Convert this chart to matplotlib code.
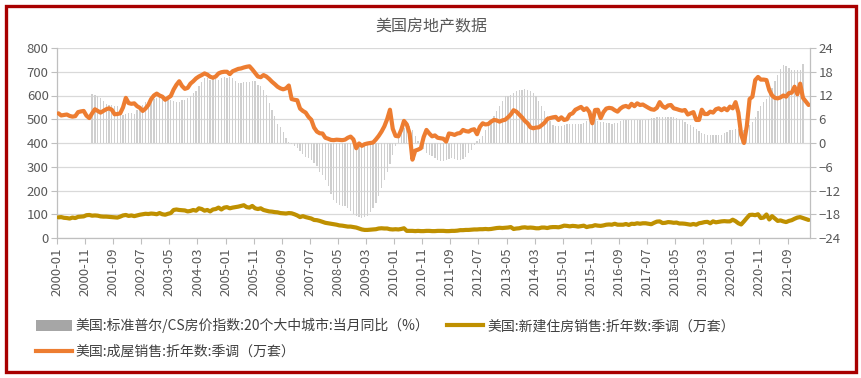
import matplotlib
matplotlib.use("Agg")
import matplotlib.pyplot as plt
from matplotlib.patches import Patch, Rectangle
from matplotlib.lines import Line2D
import numpy as np

plt.rcParams['font.family'] = ['Noto Sans CJK SC', 'DejaVu Sans']

# ---------------- data ----------------
start_year, start_month = 2000, 1
n_months = 268  # 2000-01 .. 2022-04

# 美国:成屋销售:折年数:季调（万套）, 2000-01 .. 2022-04
existing_sales = [
    525, 516, 518, 520, 514, 511, 513, 530, 533, 535, 515, 505,   # 2000
    525, 542, 535, 528, 535, 542, 546, 540, 521, 522, 525, 550,   # 2001
    590, 568, 565, 567, 555, 548, 535, 545, 560, 585, 600, 608,   # 2002
    600, 595, 582, 590, 598, 625, 645, 660, 640, 628, 632, 650,   # 2003
    660, 672, 680, 686, 693, 688, 679, 675, 680, 693, 698, 700,   # 2004
    700, 690, 702, 707, 712, 714, 718, 721, 723, 710, 695, 680,   # 2005
    677, 686, 680, 670, 658, 648, 637, 630, 626, 630, 642, 585,   # 2006
    582, 580, 545, 535, 528, 510, 498, 465, 448, 441, 440, 422,   # 2007
    418, 413, 412, 414, 413, 412, 414, 422, 427, 415, 378, 398,   # 2008
    388, 395, 398, 400, 402, 415, 430, 448, 470, 500, 540, 460,   # 2009
    430, 428, 455, 493, 478, 440, 330, 368, 372, 378, 425, 455,   # 2010
    440, 428, 432, 422, 420, 418, 406, 440, 438, 434, 440, 442,   # 2011
    455, 450, 448, 455, 458, 437, 468, 483, 478, 480, 490, 497,   # 2012
    495, 490, 495, 498, 508, 520, 538, 532, 520, 508, 493, 483,   # 2013
    466, 462, 465, 466, 475, 485, 501, 505, 508, 510, 497, 508,   # 2014
    497, 500, 520, 525, 540, 546, 552, 539, 546, 530, 483, 539,   # 2015
    540, 505, 530, 545, 548, 546, 538, 532, 545, 553, 556, 550,   # 2016
    565, 555, 567, 560, 562, 555, 548, 542, 540, 548, 572, 555,   # 2017
    548, 558, 560, 546, 543, 539, 536, 539, 520, 525, 530, 497,   # 2018
    497, 540, 522, 522, 532, 528, 542, 546, 538, 546, 538, 553,   # 2019
    546, 572, 528, 435, 400, 470, 585, 595, 665, 678, 667, 667,   # 2020
    665, 623, 600, 590, 588, 592, 600, 595, 610, 612, 637, 605,   # 2021
    650, 590, 575, 560,                                           # 2022
]

# 美国:新建住房销售:折年数:季调（万套）, 2000-01 .. 2022-04
new_sales = [
    87, 88, 85, 84, 82, 86, 84, 89, 90, 91, 96, 97,        # 2000
    94, 95, 94, 91, 90, 90, 89, 88, 87, 86, 90, 95,        # 2001
    97, 93, 95, 92, 95, 98, 100, 102, 101, 103, 102, 100,  # 2002
    105, 100, 98, 102, 105, 118, 120, 118, 117, 116, 112, 114,  # 2003
    118, 115, 125, 122, 115, 118, 112, 120, 122, 128, 120, 128,  # 2004
    130, 125, 128, 130, 132, 135, 138, 130, 128, 135, 125, 122,  # 2005
    125, 118, 115, 112, 111, 109, 108, 105, 104, 103, 105, 104,  # 2006
    100, 95, 88, 92, 88, 85, 82, 76, 75, 72, 68, 64,       # 2007
    62, 60, 58, 56, 53, 52, 50, 48, 48, 46, 44, 40,        # 2008
    36, 34, 34, 35, 36, 37, 40, 41, 40, 40, 37, 36,        # 2009
    37, 36, 38, 41, 30, 30, 30, 29, 30, 29, 29, 30,        # 2010
    30, 29, 29, 30, 30, 30, 29, 29, 30, 30, 31, 33,        # 2011
    33, 34, 34, 35, 36, 36, 37, 37, 38, 37, 38, 40,        # 2012
    42, 43, 42, 43, 44, 46, 38, 40, 41, 44, 45, 43,        # 2013
    44, 43, 41, 41, 44, 44, 42, 45, 46, 46, 45, 48,        # 2014
    52, 51, 49, 51, 50, 48, 50, 52, 46, 49, 50, 54,        # 2015
    52, 51, 53, 56, 57, 56, 60, 56, 56, 56, 59, 55,        # 2016
    60, 59, 62, 60, 62, 62, 60, 58, 64, 69, 70, 63,        # 2017
    64, 67, 66, 64, 65, 61, 61, 60, 58, 56, 59, 56,        # 2018
    62, 64, 67, 68, 62, 70, 66, 68, 70, 71, 70, 70,        # 2019
    77, 71, 62, 57, 70, 84, 97, 98, 96, 100, 84, 86,       # 2020
    99, 78, 92, 82, 72, 74, 70, 67, 72, 75, 81, 86,        # 2021
    88, 84, 80, 76,                                        # 2022
]

# 美国:标准普尔/CS房价指数:20个大中城市:当月同比（%）, 2001-01 .. 2022-02
cs_start = 12  # index of 2001-01
cs_yoy = [
    12.4, 12.2, 12.0, 11.4, 10.5, 9.9, 9.7, 9.7, 9.4, 9.3, 8.0, 7.2,         # 2001
    7.4, 7.7, 7.5, 7.4, 8.4, 9.3, 9.7, 10.3, 10.5, 10.9, 11.1, 11.4,        # 2002
    11.6, 11.1, 10.9, 10.8, 10.8, 10.5, 10.4, 10.3, 10.8, 10.9, 11.4, 11.8, # 2003
    12.6, 13.1, 14.3, 15.3, 16.4, 16.4, 16.0, 16.2, 16.2, 16.0, 16.3, 16.6, # 2004
    16.3, 16.6, 16.4, 15.6, 15.2, 15.2, 15.3, 15.4, 15.5, 15.6, 15.6, 14.7, # 2005
    14.5, 13.5, 12.2, 10.1, 8.4, 6.9, 4.9, 4.0, 2.7, 1.2, 0.2, -0.3,        # 2006
    -0.8, -1.3, -2.1, -2.9, -3.5, -3.8, -4.4, -5.1, -5.9, -7.2, -8.2, -9.3, # 2007
    -10.9, -12.8, -14.3, -15.2, -15.6, -15.8, -16.0, -16.4, -17.3, -17.9, -18.4, -18.7,  # 2008
    -18.9, -18.7, -18.4, -17.5, -16.4, -15.2, -13.5, -11.4, -9.3, -7.2, -5.2, -3.0,      # 2009
    -0.8, 1.3, 2.9, 3.8, 4.6, 4.2, 3.4, 1.7, 0.6, -0.8, -1.6, -2.5,        # 2010
    -3.1, -3.4, -3.8, -4.2, -4.6, -4.6, -4.2, -4.0, -3.8, -4.0, -4.3, -4.2, # 2011
    -4.0, -3.5, -2.5, -1.7, -0.5, 0.4, 1.0, 1.7, 3.4, 4.6, 5.5, 6.7,       # 2012
    8.0, 9.3, 10.5, 11.8, 11.8, 12.2, 12.6, 13.1, 13.3, 13.5, 13.6, 13.5,  # 2013
    13.1, 12.6, 11.8, 10.5, 9.3, 8.0, 6.7, 5.5, 4.6, 4.4, 4.2, 4.4,        # 2014
    4.6, 4.9, 4.9, 4.9, 4.9, 4.9, 4.9, 5.1, 5.5, 5.9, 5.9, 5.7,            # 2015
    5.5, 5.2, 5.2, 5.1, 5.1, 4.9, 5.1, 5.1, 5.5, 5.7, 5.7, 5.7,            # 2016
    5.7, 5.8, 5.9, 5.9, 5.8, 5.9, 6.1, 6.3, 6.3, 6.5, 6.6, 6.6,            # 2017
    6.5, 6.6, 6.6, 6.6, 6.3, 6.1, 5.7, 5.3, 4.8, 4.6, 4.0, 3.6,            # 2018
    3.0, 2.5, 2.3, 2.1, 1.9, 1.9, 1.9, 2.0, 2.1, 2.5, 2.9, 3.2,            # 2019
    3.2, 3.5, 3.5, 3.5, 3.2, 3.6, 4.5, 5.2, 6.6, 8.0, 9.3, 10.3,           # 2020
    11.1, 12.6, 13.9, 15.6, 17.3, 18.6, 19.8, 19.4, 18.9, 18.5, 18.4, 18.4, # 2021
    18.5, 20.0,                                                           # 2022
]

tick_step = 10
labels_all = [f"{start_year + (start_month - 1 + i) // 12}-{(start_month - 1 + i) % 12 + 1:02d}"
              for i in range(n_months)]

name_cs = "美国:标准普尔/CS房价指数:20个大中城市:当月同比（%）"
name_new = "美国:新建住房销售:折年数:季调（万套）"
name_exist = "美国:成屋销售:折年数:季调（万套）"

# ---------------- figure ----------------
W, H = 862, 378
fig = plt.figure(figsize=(W / 100, H / 100), dpi=100)
fig.patch.set_facecolor('white')
fig.subplots_adjust(left=57 / W, right=810 / W, top=1 - 48 / H, bottom=1 - 238 / H)

ax2 = fig.add_subplot(111)          # bars, right axis
ax = ax2.twinx()                    # lines, left axis (sides swapped below)

x = np.arange(n_months)
xb = np.arange(cs_start, cs_start + len(cs_yoy))

GRID = '#d9d9d9'
AXC = '#bfbfbf'
TXT = '#595959'

ax2.bar(xb, cs_yoy, width=0.45, color='#cfcfcf', zorder=2, linewidth=0)
ax2.set_ylim(-24, 24)
ax2.set_yticks(np.arange(-24, 25, 6))
ax2.grid(axis='y', color=GRID, linewidth=0.9, zorder=0)
ax2.set_axisbelow(True)

ax.plot(x, new_sales, color='#BF9000', linewidth=3.0, solid_capstyle='round', zorder=3)
ax.plot(x, existing_sales, color='#ED7D31', linewidth=3.0, solid_capstyle='round', zorder=4)
ax.set_ylim(0, 800)
ax.set_yticks(np.arange(0, 801, 100))

ax.yaxis.tick_left()
ax.yaxis.set_label_position('left')
ax2.yaxis.tick_right()
ax2.yaxis.set_label_position('right')

ax2.set_xlim(-0.5, n_months - 0.5)
for a in (ax, ax2):
    for s in a.spines.values():
        s.set_visible(False)

for s in ('left', 'right', 'bottom'):
    ax2.spines[s].set_visible(True)
    ax2.spines[s].set_color(AXC)
    ax2.spines[s].set_linewidth(0.9)

ticks = np.arange(0, n_months, tick_step) - 0.5
ax2.set_xticks(ticks)
ax2.set_xticklabels([labels_all[int(t + 0.5)] for t in ticks], rotation=90,
                    fontsize=9.5, color=TXT, va='top', ha='center')
ax2.tick_params(axis='x', length=4, color=AXC, pad=3)
ax.tick_params(axis='x', bottom=False, top=False, labelbottom=False, labeltop=False)

ax.tick_params(axis='y', labelsize=9.5, colors=TXT, length=4, color=AXC, pad=2)
ax.tick_params(axis='y', labelcolor=TXT)
ax2.tick_params(axis='y', labelsize=9.5, colors=TXT, length=4, color=AXC, pad=2)

ax.set_zorder(ax2.get_zorder() + 1)
ax.patch.set_visible(False)

fig.text(431 / W, 1 - 27 / H, "美国房地产数据", ha='center', va='center',
         fontsize=11.5, color=TXT)

handles = [Patch(facecolor='#a6a6a6', edgecolor='none'),
           Line2D([], [], color='#ED7D31', linewidth=3.0),
           Line2D([], [], color='#BF9000', linewidth=3.0)]
leg = fig.legend(handles, [name_cs, name_exist, name_new], ncol=2,
                 loc='upper left', bbox_to_anchor=(36 / W, 1 - 318 / H),
                 frameon=False, fontsize=10, handlelength=2.6, handleheight=0.9,
                 handletextpad=0.25, columnspacing=1.3, labelspacing=0.85,
                 borderpad=0, borderaxespad=0)
for t in leg.get_texts():
    t.set_color('#404040')

fig.patches.append(Rectangle((6 / W, 6 / H), 850 / W, 366 / H, transform=fig.transFigure,
                             fill=False, edgecolor='#A80000', linewidth=2.4, zorder=10))

fig.savefig('out.png', dpi=100, facecolor='white')
